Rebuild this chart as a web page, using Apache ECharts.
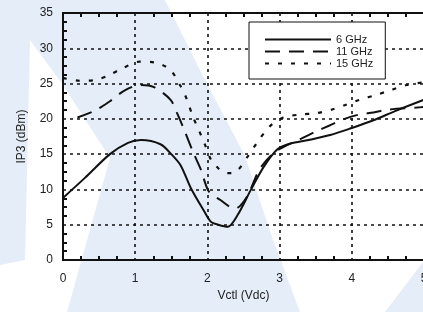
<!DOCTYPE html>
<html>
<head>
<meta charset="utf-8">
<script src="https://cdn.jsdelivr.net/npm/echarts@6/dist/echarts.min.js"></script>
<style>
  html, body { margin: 0; padding: 0; background: #fff; }
  #main { width: 423px; height: 312px; }
</style>
</head>
<body>
<div id="main"></div>
<script>
// 数据
var seriesNames = ['6 GHz', '11 GHz', '15 GHz'];

var ghz6 = [
  [0, 8.8], [0.3, 11.6], [0.65, 15.0], [0.9, 16.6], [1.08, 17.0], [1.35, 16.4],
  [1.5, 15.0], [1.63, 13.4], [1.77, 10.2], [1.95, 7.0], [2.05, 5.4], [2.15, 5.0],
  [2.28, 4.7], [2.42, 6.4], [2.6, 9.9], [2.78, 13.2], [2.97, 15.7], [3.15, 16.5],
  [3.4, 17.0], [3.7, 17.7], [4.0, 18.7], [4.3, 19.8], [4.6, 21.1], [5, 22.7]
];

var ghz11 = [
  [0.2, 20.2], [0.45, 21.2], [0.65, 22.5], [0.85, 24.0], [1.07, 24.8], [1.26, 24.5],
  [1.49, 22.7], [1.58, 20.8], [1.68, 18.4], [1.81, 15.1], [1.91, 12.8], [2.02, 9.7],
  [2.18, 8.5], [2.3, 7.6], [2.39, 7.3], [2.55, 9.0], [2.72, 12.8], [2.91, 15.1],
  [3.07, 16.1], [3.3, 17.2], [3.5, 18.2], [3.7, 19.1], [3.9, 20.0], [4.1, 20.6],
  [4.3, 20.9], [4.5, 21.3], [4.9, 21.6], [5, 21.7]
];

var ghz15 = [
  [0, 25.8], [0.23, 25.4], [0.44, 25.5], [0.62, 26.1], [0.83, 27.2], [1.06, 28.1],
  [1.27, 28.0], [1.48, 27.0], [1.62, 24.8], [1.71, 22.9], [1.8, 20.3], [1.89, 18.2],
  [1.96, 16.5], [2.05, 14.2], [2.15, 13.0], [2.24, 12.4], [2.33, 12.3], [2.42, 12.7],
  [2.56, 14.7], [2.7, 16.8], [2.86, 18.9], [3.05, 20.2], [3.28, 20.6], [3.51, 20.8],
  [3.72, 21.3], [3.92, 22.0], [4.11, 22.7], [4.34, 23.4], [4.55, 24.1], [4.76, 24.8],
  [5, 25.2]
];

var font = 'Liberation Sans, Arial, sans-serif';
var gridLine = { color: '#111', width: 1.6, type: [3, 4] };
var markFill = '#e5eef8';

var myChart = echarts.init(document.getElementById('main'));
myChart.setOption({
  animation: false,
  backgroundColor: '#fff',
  textStyle: { fontFamily: font },
  // 背景水印
  graphic: [
    {
      type: 'polygon', silent: true, z: -10,
      shape: { points: [[0, 0], [165, 0], [205, 80], [245, 156], [272, 237], [300, 312],
                        [67, 312], [110, 158], [63, 85], [30, 40], [25, 260], [0, 265]] },
      style: { fill: markFill }
    },
    {
      type: 'polygon', silent: true, z: -10,
      shape: { points: [[385, 312], [423, 312], [423, 262]] },
      style: { fill: markFill }
    }
  ],
  grid: { left: 63, top: 13, width: 361, height: 247, show: true,
          outerBoundsMode: 'none', containLabel: false,
          borderColor: '#111', borderWidth: 2, backgroundColor: 'transparent' },
  legend: {
    data: seriesNames,
    orient: 'vertical',
    left: 249, top: 22,
    padding: [12, 12, 10, 15],
    itemWidth: 66, itemHeight: 10, itemGap: 1,
    backgroundColor: '#fff',
    borderColor: '#111', borderWidth: 1,
    itemStyle: { opacity: 0 },
    textStyle: { fontSize: 11, color: '#222', fontFamily: font }
  },
  xAxis: [
    {
      type: 'value', min: 0, max: 5, interval: 1,
      name: 'Vctl (Vdc)', nameLocation: 'middle', nameGap: 28,
      nameTextStyle: { fontSize: 12, color: '#222' },
      axisLine: { show: true, lineStyle: { color: '#111', width: 2 } },
      axisTick: { show: false },
      minorTick: { show: true, splitNumber: 4, length: -4, lineStyle: { color: '#111', width: 2 } },
      axisLabel: { fontSize: 12, color: '#222', margin: 13 },
      splitLine: { show: true, lineStyle: gridLine }
    },
    {
      type: 'value', min: 0, max: 5, interval: 1, position: 'top',
      axisLine: { show: false },
      axisTick: { show: false },
      minorTick: { show: true, splitNumber: 4, length: -4, lineStyle: { color: '#111', width: 2 } },
      axisLabel: { show: false },
      splitLine: { show: false }
    }
  ],
  yAxis: {
    type: 'value', min: 0, max: 35, interval: 5,
    name: 'IP3 (dBm)', nameLocation: 'middle', nameGap: 35,
    nameTextStyle: { fontSize: 12, color: '#222' },
    axisLine: { show: true, lineStyle: { color: '#111', width: 2 } },
    axisTick: { show: false },
    minorTick: { show: true, splitNumber: 4, length: -4, lineStyle: { color: '#111', width: 2 } },
    axisLabel: { fontSize: 12, color: '#222', margin: 10 },
    splitLine: { show: true, lineStyle: gridLine }
  },
  series: [
    {
      name: seriesNames[0], type: 'line', data: ghz6, smooth: 0.3,
      symbol: 'none', lineStyle: { color: '#111', width: 2 }, itemStyle: { color: '#111' }
    },
    {
      name: seriesNames[1], type: 'line', data: ghz11, smooth: 0.3,
      symbol: 'none', lineStyle: { color: '#111', width: 2, type: [15, 9] }, itemStyle: { color: '#111' }
    },
    {
      name: seriesNames[2], type: 'line', data: ghz15, smooth: 0.3,
      symbol: 'none', lineStyle: { color: '#111', width: 2.2, type: [4, 9] }, itemStyle: { color: '#111' }
    }
  ]
});
</script>
</body>
</html>
